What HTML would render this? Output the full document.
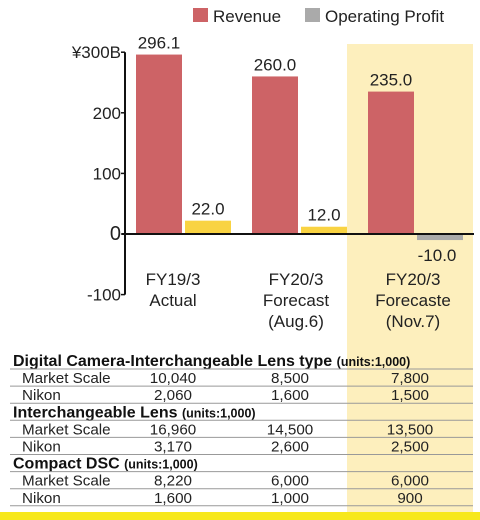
<!DOCTYPE html>
<html><head><meta charset="utf-8"><style>
body{margin:0;width:480px;height:520px;background:#fff;overflow:hidden;font-family:"Liberation Sans","DejaVu Sans",sans-serif;}
svg{position:absolute;left:0;top:0}
</style></head><body>
<svg width="480" height="520" id="c">
<rect x="347" y="44" width="126" height="470" fill="#fdefbd"/>
<rect x="0" y="512" width="480" height="8" fill="#f7e81c"/>
<g>
<rect x="193" y="8" width="15" height="14" fill="#cd6366"/>
<text x="213" y="22" font-size="17" fill="#222">Revenue</text>
<rect x="305" y="8" width="15" height="14" fill="#aaa"/>
<text x="325" y="22" font-size="17" fill="#222">Operating Profit</text>
</g>
<g id="plot"></g>
<g id="tbl"></g>
</svg>
<script>
const categories=[["FY19/3","Actual"],["FY20/3","Forecast","(Aug.6)"],["FY20/3","Forecaste","(Nov.7)"]];
const revenue=[296.1,260.0,235.0];
const opProfit=[22.0,12.0,-10.0];
const ticks=[300,200,100,0,-100];
const tickLabels=["¥300B","200","100","0","-100"];
const NS="http://www.w3.org/2000/svg";
const y=v=>234-v*0.606;
const xc=i=>136+i*116;
function mk(t,a,p,txt){const e=document.createElementNS(NS,t);for(const k in a)e.setAttribute(k,a[k]);if(txt!=null)e.textContent=txt;p.appendChild(e);return e;}
const g=document.getElementById('plot');
let ax=mk('line',{x1:125,y1:y(300),x2:125,y2:y(-100),stroke:'#111','stroke-width':2},g);

ticks.forEach((t,i)=>{
 let l=mk('line',{x1:121,y1:y(t),x2:125,y2:y(t),stroke:'#111','stroke-width':1.5},g);
 
 let tx=mk('text',{x:121,y:y(t)+6,'text-anchor':'end','font-size':t===0?20:17,fill:'#222'},g,tickLabels[i]);
 
});
revenue.forEach((v,i)=>{
 let r=mk('rect',{x:xc(i),y:y(v),width:46,height:y(0)-y(v),fill:'#cd6366'},g);
 
 let t=mk('text',{x:xc(i)+23,y:y(v)-6,'text-anchor':'middle','font-size':17,fill:'#222'},g,v.toFixed(1));
 
});
opProfit.forEach((v,i)=>{
 let top=Math.min(y(v),y(0)),h=Math.abs(y(v)-y(0));
 let r=mk('rect',{x:xc(i)+49,y:top,width:46,height:h,fill:v<0?'#aaa':'#f9d342'},g);
 
 let ly=v<0?y(v)+21:y(v)-6;
 let t=mk('text',{x:xc(i)+(v<0?69:72),y:ly,'text-anchor':'middle','font-size':17,fill:'#222'},g,v.toFixed(1));
 
});
let z=mk('line',{x1:122,y1:y(0),x2:474,y2:y(0),stroke:'#111','stroke-width':2},g);

categories.forEach((c,i)=>{c.forEach((s,j)=>{
 let t=mk('text',{x:[173,296,413][i],y:285+j*21,'text-anchor':'middle','font-size':17,fill:'#222'},g,s);
 
});});
const T=document.getElementById('tbl');
const rows=[["h","Digital Camera-Interchangeable Lens type"],["r","Market Scale","10,040","8,500","7,800"],["r","Nikon","2,060","1,600","1,500"],
["h","Interchangeable Lens"],["r","Market Scale","16,960","14,500","13,500"],["r","Nikon","3,170","2,600","2,500"],
["h","Compact DSC"],["r","Market Scale","8,220","6,000","6,000"],["r","Nikon","1,600","1,000","900"]];
rows.forEach((r,i)=>{
 const top=352+i*17.1,base=top+14;
 if(r[0]==='h'){
  let t=mk('text',{x:13,y:base,'font-size':16,'font-weight':'bold',fill:'#111'},T);
  
  mk('tspan',{},t,r[1]+' ');mk('tspan',{'font-size':12.5},t,'(units:1,000)');
 }else{
  let t=mk('text',{x:22,y:base,'font-size':15.2,fill:'#222'},T,r[1]);
  
  [173,290,410].forEach((x,k)=>{let c=mk('text',{x:x,y:base,'text-anchor':'middle','font-size':15.2,fill:'#222'},T,r[k+2]);
  });
 }
 let l=mk('line',{x1:10,y1:top+17,x2:473,y2:top+17,stroke:'#999','stroke-width':1},T);
 
});
</script>
</body></html>
